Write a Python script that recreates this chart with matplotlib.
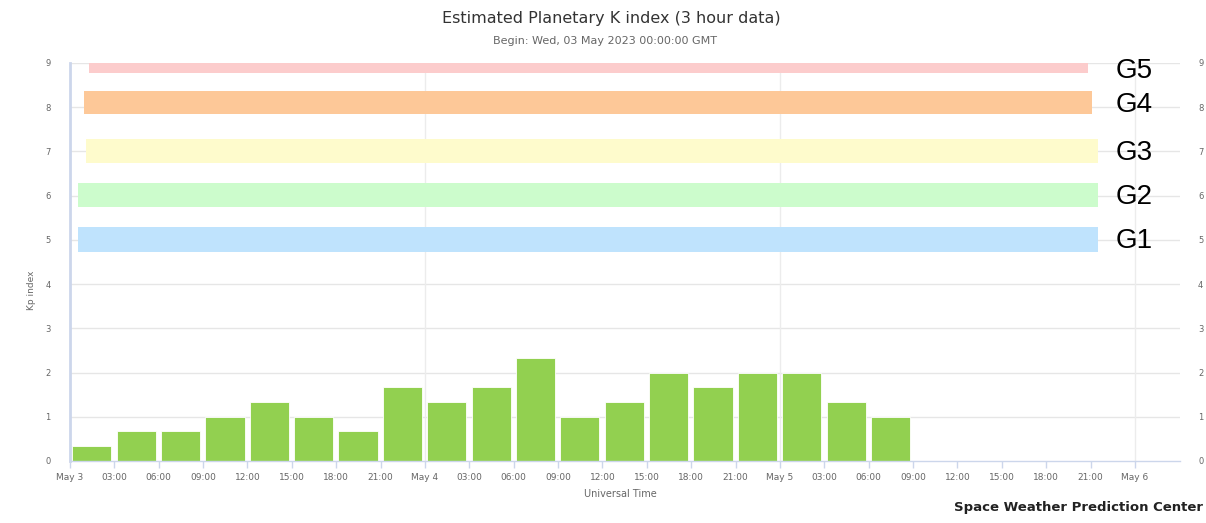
import matplotlib
matplotlib.use("Agg")
import matplotlib.pyplot as plt
from matplotlib.patches import Rectangle

# ---------------- data ----------------
title = "Estimated Planetary K index (3 hour data)"
subtitle = "Begin: Wed, 03 May 2023 00:00:00 GMT"
kp_values = [0.33, 0.67, 0.67, 1.0, 1.33, 1.0, 0.67, 1.67, 1.33, 1.67,
             2.33, 1.0, 1.33, 2.0, 1.67, 2.0, 2.0, 1.33, 1.0]
bar_start_hours = [3 * i for i in range(len(kp_values))]
tick_hours = list(range(0, 73, 3))
tick_labels = ["May 3", "03:00", "06:00", "09:00", "12:00", "15:00", "18:00", "21:00",
               "May 4", "03:00", "06:00", "09:00", "12:00", "15:00", "18:00", "21:00",
               "May 5", "03:00", "06:00", "09:00", "12:00", "15:00", "18:00", "21:00",
               "May 6"]
y_ticks = [0, 1, 2, 3, 4, 5, 6, 7, 8, 9]
storm_names = ["G1", "G2", "G3", "G4", "G5"]
storm_levels = [5, 6, 7, 8, 9]

# ---------------- styles ----------------
storm_colors = ["#bfe3fd", "#ccfccc", "#fefbcc", "#fdc898", "#fccccc"]
# (x0, x1, y0, y1) of each pasted storm band, in data units
storm_extents = [(0.55, 69.5, 4.73, 5.29),
                 (0.55, 69.5, 5.75, 6.29),
                 (1.08, 69.5, 6.74, 7.28),
                 (0.95, 69.1, 7.85, 8.37),
                 (1.28, 68.8, 8.77, 9.0)]
storm_label_y = [4.97, 5.96, 6.96, 8.05, 8.83]
bar_color = "#92d050"
grid_color = "#e6e6e6"
vgrid_color = "#ececec"
axis_color = "#ccd6eb"
label_color = "#666666"

fig = plt.figure(figsize=(12.06, 5.23), dpi=100)
fig.patch.set_facecolor("white")
ax = fig.add_axes([70 / 1206, 1 - 461 / 523, (1180 - 70) / 1206, (461 - 63) / 523])
ax.set_xlim(0, 75.05)
ax.set_ylim(0, 9)

# grid
for y in y_ticks[1:]:
    ax.axhline(y, color=grid_color, lw=1, zorder=0)
for xh in [24, 48, 72]:
    ax.axvline(xh, color=vgrid_color, lw=1, zorder=0)

# bars
ax.bar([h + 0.15 for h in bar_start_hours], kp_values, width=2.65, align="edge",
       color=bar_color, edgecolor="white", linewidth=0.6, zorder=2)

# storm bands
for (x0, x1, y0, y1), c in zip(storm_extents, storm_colors):
    ax.add_patch(Rectangle((x0, y0), x1 - x0, y1 - y0, facecolor=c, edgecolor="none",
                           zorder=3, clip_on=False))
for name, y in zip(storm_names, storm_label_y):
    ax.text(70.7, y, name, fontsize=20, family="Liberation Sans", color="black",
            va="center", ha="left", zorder=4)

# axes styling
for s in ["top", "right"]:
    ax.spines[s].set_visible(False)
ax.spines["left"].set_color(axis_color)
ax.spines["left"].set_linewidth(2)
ax.spines["bottom"].set_color(axis_color)
ax.spines["bottom"].set_linewidth(1)
ax.set_xticks(tick_hours)
ax.set_xticklabels(tick_labels)
ax.tick_params(axis="x", length=5, width=1, color=axis_color, labelsize=6.5,
               labelcolor=label_color, pad=4)
ax.set_yticks(y_ticks)
ax.tick_params(axis="y", length=0, labelsize=6, labelcolor=label_color, pad=14)

ax2 = ax.twinx()
ax2.set_ylim(0, 9)
ax2.set_yticks(y_ticks)
for s in ax2.spines.values():
    s.set_visible(False)
ax2.tick_params(axis="y", length=0, labelsize=6, labelcolor=label_color, pad=13)

# texts
fig.text(611 / 1206, 1 - 18 / 523, title, ha="center", va="center", fontsize=11.5,
         color="#333333")
fig.text(605 / 1206, 1 - 41 / 523, subtitle, ha="center", va="center", fontsize=8,
         color=label_color)
fig.text(32 / 1206, 1 - 290 / 523, "Kp index", ha="center", va="center", rotation=90,
         fontsize=6.5, color=label_color)
fig.text(620 / 1206, 1 - 494 / 523, "Universal Time", ha="center", va="center",
         fontsize=7, color=label_color)
fig.text(1078 / 1206, 1 - 507 / 523, "Space Weather Prediction Center", ha="center",
         va="center", fontsize=9.5, color="#222222", fontweight="bold")

fig.savefig("out.png", dpi=100)
